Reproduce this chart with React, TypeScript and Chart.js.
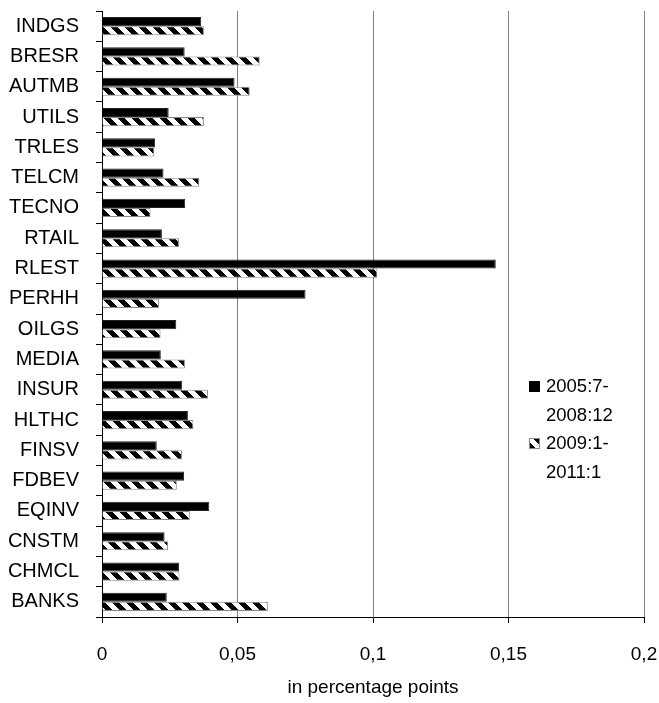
import React, { useEffect, useRef } from "react";
import { Chart, registerables } from "chart.js";

Chart.register(...registerables);

const CATEGORIES = [
  "INDGS", "BRESR", "AUTMB", "UTILS", "TRLES", "TELCM", "TECNO", "RTAIL", "RLEST", "PERHH",
  "OILGS", "MEDIA", "INSUR", "HLTHC", "FINSV", "FDBEV", "EQINV", "CNSTM", "CHMCL", "BANKS",
];

const SERIES_A_LABEL = ["2005:7-", "2008:12"];
const SERIES_B_LABEL = ["2009:1-", "2011:1"];

const SERIES_A = [
  0.0366, 0.0305, 0.0489, 0.0246, 0.0196, 0.0227, 0.0307, 0.0221, 0.1453, 0.0751,
  0.0274, 0.0217, 0.0296, 0.0317, 0.0202, 0.0303, 0.0396, 0.0231, 0.0284, 0.0239,
];

const SERIES_B = [
  0.0376, 0.0582, 0.0545, 0.0376, 0.0193, 0.0359, 0.0179, 0.0284, 0.1016, 0.0210,
  0.0216, 0.0306, 0.0391, 0.0337, 0.0295, 0.0276, 0.0324, 0.0244, 0.0286, 0.0612,
];

const X_TICK_LABELS = ["0", "0,05", "0,1", "0,15", "0,2"];
const X_TITLE = "in percentage points";

const FONT = "'Liberation Sans', Arial, sans-serif";

function makeHatch(): CanvasPattern | string {
  const p = 14;
  const c = document.createElement("canvas");
  c.width = p;
  c.height = p;
  const ctx = c.getContext("2d");
  if (!ctx) return "#888";
  ctx.fillStyle = "#fff";
  ctx.fillRect(0, 0, p, p);
  ctx.fillStyle = "#000";
  for (let y = 0; y < p; y++) {
    for (let x = 0; x < p; x++) {
      const d = (((x - y) % p) + p) % p;
      if (d < p / 2) ctx.fillRect(x, y, 1, 1);
    }
  }
  const pat = ctx.createPattern(c, "repeat");
  return pat || "#888";
}

export default function App() {
  const ref = useRef<HTMLCanvasElement | null>(null);

  useEffect(() => {
    document.body.style.margin = "0";
    const canvas = ref.current;
    if (!canvas) return;
    const hatch = makeHatch();
    const chart = new Chart(canvas, {
      type: "bar",
      data: {
        labels: CATEGORIES,
        datasets: [
          {
            label: SERIES_A_LABEL.join(""),
            data: SERIES_A,
            backgroundColor: "#000",
            borderColor: "#222",
            borderWidth: 1,
            barPercentage: 1,
            categoryPercentage: 0.6,
          },
          {
            label: SERIES_B_LABEL.join(""),
            data: SERIES_B,
            backgroundColor: hatch as any,
            borderColor: "#888",
            borderWidth: 1,
            barPercentage: 1,
            categoryPercentage: 0.6,
          },
        ],
      },
      options: {
        indexAxis: "y",
        responsive: false,
        animation: false,
        layout: { padding: { top: 11, right: 15, left: 0, bottom: 0 } },
        plugins: {
          legend: { display: false },
          tooltip: { enabled: false },
        },
        scales: {
          x: {
            min: 0,
            max: 0.2,
            ticks: {
              stepSize: 0.05,
              color: "#000",
              font: { family: FONT, size: 19 },
              padding: 20,
              maxRotation: 0,
              callback: (_v: any, i: number) => X_TICK_LABELS[i],
            },
            grid: { color: "#808080", lineWidth: 1, tickLength: 6, tickColor: "#000" },
            border: { color: "#000", width: 1 },
            title: {
              display: true,
              text: X_TITLE,
              color: "#000",
              font: { family: FONT, size: 19 },
              padding: { top: 4, bottom: 4 },
            },
            afterFit: (scale: any) => {
              scale.paddingLeft = 0;
              scale.paddingRight = 0;
              scale.height = 86;
            },
          },
          y: {
            offset: true,
            ticks: {
              color: "#000",
              font: { family: FONT, size: 20 },
              padding: 17,
              autoSkip: false,
            },
            grid: { drawOnChartArea: false, tickLength: 6, color: "#000" },
            border: { color: "#000", width: 1 },
            afterFit: (scale: any) => {
              scale.paddingTop = 0;
              scale.paddingBottom = 0;
              scale.width = 102;
            },
          },
        },
      },
    });
    return () => chart.destroy();
  }, []);

  const sq: React.CSSProperties = {
    position: "absolute",
    left: 0,
    width: 11,
    height: 11,
    boxSizing: "border-box",
  };

  return (
    <div style={{ position: "relative", width: 659, height: 703 }}>
      <canvas ref={ref} width={659} height={703} style={{ display: "block" }} />
      <div
        style={{
          position: "absolute",
          left: 529,
          top: 372,
          fontFamily: FONT,
          fontSize: 18.5,
          lineHeight: "28.5px",
          color: "#000",
        }}
      >
        <div style={{ position: "relative", paddingLeft: 17 }}>
          <span style={{ ...sq, top: 9, background: "#000" }} />
          <div>{SERIES_A_LABEL[0]}</div>
          <div>{SERIES_A_LABEL[1]}</div>
        </div>
        <div style={{ position: "relative", paddingLeft: 17 }}>
          <span
            style={{
              ...sq,
              top: 9,
              border: "1px solid #888",
              background:
                "linear-gradient(45deg, #000 0%, #000 30%, #fff 30%, #fff 70%, #000 70%, #000 100%)",
            }}
          />
          <div>{SERIES_B_LABEL[0]}</div>
          <div>{SERIES_B_LABEL[1]}</div>
        </div>
      </div>
    </div>
  );
}
